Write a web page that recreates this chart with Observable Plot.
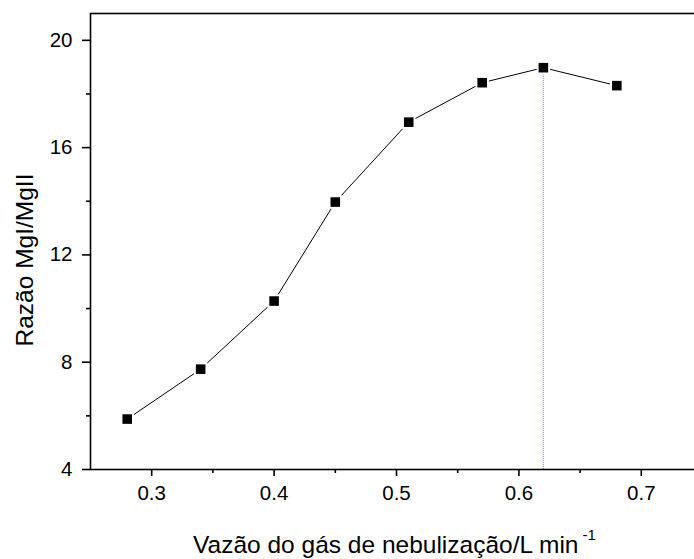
<!DOCTYPE html>
<html><head><meta charset="utf-8">
<script src="https://cdn.jsdelivr.net/npm/d3@7"></script>
<script src="https://cdn.jsdelivr.net/npm/@observablehq/plot@0.6"></script>
<style>
body{margin:0;background:#fff;overflow:hidden}
#chart{width:694px;height:559px;overflow:hidden;position:relative}
</style>
</head><body><div id="chart"></div>
<script>
const flowRates = [0.28, 0.34, 0.40, 0.45, 0.51, 0.57, 0.62, 0.68];
const ratios = [5.88, 7.74, 10.28, 13.97, 16.95, 18.42, 18.98, 18.31];
const xMajorTicks = [0.3, 0.4, 0.5, 0.6, 0.7];
const xMinorTicks = [0.35, 0.45, 0.55, 0.65];
const yMajorTicks = [4, 8, 12, 16, 20];
const yMinorTicks = [6, 10, 14, 18];
const optimumFlow = 0.62;
const optimumRatio = 18.98;
const xTitle = "Vazão do gás de nebulização/L min";
const xTitleSup = "-1";
const yTitle = "Razão MgI/MgII";

const data = flowRates.map((x, i) => ({x, y: ratios[i]}));
const font = "Liberation Sans, Arial, Helvetica, sans-serif";

const plot = Plot.plot({
  width: 694,
  height: 559,
  marginLeft: 90,
  marginTop: 13,
  marginBottom: 90,
  marginRight: -8,
  style: {fontFamily: font, background: "#fff", color: "#000"},
  x: {domain: [0.25, 0.75], label: null},
  y: {domain: [4, 21], label: null},
  marks: [
    Plot.ruleX([optimumFlow], {y1: 4, y2: optimumRatio, stroke: "#9a9aff", strokeWidth: 1.2, strokeDasharray: "1,1"}),
    Plot.line(data, {x: "x", y: "y", stroke: "#000", strokeWidth: 1}),
    Plot.dot(data, {x: "x", y: "y", symbol: "square", r: 7.6, fill: "#fff", stroke: null}),
    Plot.dot(data, {x: "x", y: "y", symbol: "square", r: 5.4, fill: "#000", stroke: null}),
    Plot.frame({stroke: "#000", strokeWidth: 1.6}),
    Plot.axisX(xMajorTicks, {tickSize: 7, tickPadding: 9, strokeWidth: 1.6, fontSize: 20.5, tickFormat: d => d.toFixed(1), label: null}),
    Plot.axisX(xMinorTicks, {tickSize: 4, strokeWidth: 1.6, tickFormat: () => "", label: null}),
    Plot.axisY(yMajorTicks, {tickSize: 8, tickPadding: 10, strokeWidth: 1.6, fontSize: 20.5, tickFormat: d => String(d), label: null}),
    Plot.axisY(yMinorTicks, {tickSize: 4, strokeWidth: 1.6, tickFormat: () => "", label: null})
  ]
});

const svg = d3.select(plot);
svg.append("text")
  .attr("transform", "translate(33,260) rotate(-90)")
  .attr("text-anchor", "middle")
  .attr("font-family", font)
  .attr("font-size", 24.5)
  .attr("fill", "#000")
  .text(yTitle);
const xt = svg.append("text")
  .attr("x", 193)
  .attr("y", 553)
  .attr("text-anchor", "start")
  .attr("font-family", font)
  .attr("font-size", 24.5)
  .attr("fill", "#000");
xt.append("tspan").text(xTitle);
xt.append("tspan").attr("font-size", 15).attr("dx", 4).attr("dy", -13).text(xTitleSup);

document.getElementById("chart").appendChild(plot);
</script>
</body></html>
